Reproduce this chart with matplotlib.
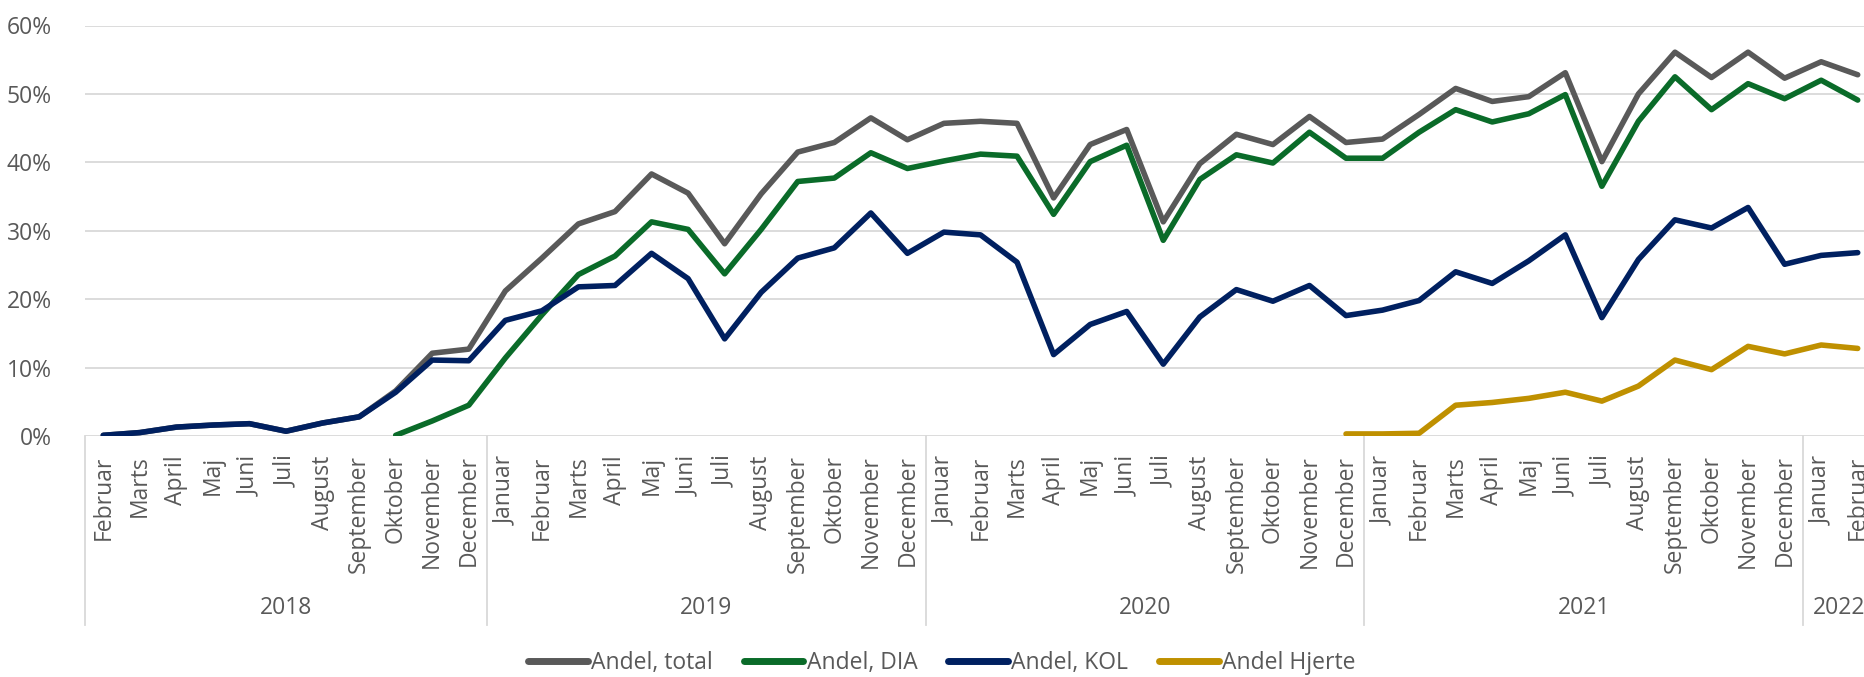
import numpy as np
import matplotlib
matplotlib.use("Agg")
import matplotlib.pyplot as plt
import matplotlib.transforms as mtransforms
from matplotlib.ticker import FuncFormatter

plt.rcParams['font.family'] = ['Open Sans', 'DejaVu Sans']

nan = np.nan

# kategorier: Februar 2018 - Februar 2022
years = ['2018', '2019', '2020', '2021', '2022']
months_per_year = [
    ['Februar', 'Marts', 'April', 'Maj', 'Juni', 'Juli', 'August', 'September',
     'Oktober', 'November', 'December'],
    ['Januar', 'Februar', 'Marts', 'April', 'Maj', 'Juni', 'Juli', 'August',
     'September', 'Oktober', 'November', 'December'],
    ['Januar', 'Februar', 'Marts', 'April', 'Maj', 'Juni', 'Juli', 'August',
     'September', 'Oktober', 'November', 'December'],
    ['Januar', 'Februar', 'Marts', 'April', 'Maj', 'Juni', 'Juli', 'August',
     'September', 'Oktober', 'November', 'December'],
    ['Januar', 'Februar'],
]

# andele i procent
andel_total = [0.1, 0.5, 1.3, 1.6, 1.8, 0.7, 1.9, 2.8, 6.6, 12.1, 12.7,
               21.2, 26.0, 31.0, 32.8, 38.3, 35.5, 28.1, 35.4, 41.5, 42.9, 46.5, 43.3,
               45.7, 46.0, 45.7, 34.8, 42.6, 44.8, 31.3, 39.8, 44.1, 42.6, 46.7, 42.9,
               43.4, 47.0, 50.8, 48.9, 49.6, 53.1, 40.1, 50.0, 56.1, 52.4, 56.1, 52.3,
               54.7, 52.8]
andel_dia = [nan, nan, nan, nan, nan, nan, nan, nan, 0.1, 2.2, 4.5,
             11.4, 17.7, 23.6, 26.3, 31.3, 30.2, 23.7, 30.2, 37.2, 37.7, 41.4, 39.1,
             40.2, 41.2, 40.9, 32.4, 40.1, 42.5, 28.6, 37.5, 41.1, 39.9, 44.4, 40.6,
             40.6, 44.4, 47.7, 45.9, 47.1, 49.9, 36.5, 46.0, 52.5, 47.7, 51.5, 49.3,
             52.0, 49.1]
andel_kol = [0.1, 0.5, 1.3, 1.6, 1.8, 0.7, 1.9, 2.8, 6.4, 11.1, 11.0,
             16.9, 18.3, 21.8, 22.0, 26.7, 23.0, 14.2, 21.0, 26.0, 27.5, 32.6, 26.7,
             29.8, 29.4, 25.4, 11.9, 16.3, 18.2, 10.5, 17.4, 21.4, 19.7, 22.0, 17.6,
             18.4, 19.8, 24.0, 22.3, 25.6, 29.4, 17.3, 25.8, 31.6, 30.4, 33.4, 25.1,
             26.4, 26.8]
andel_hjerte = [nan] * 34 + [0.3, 0.3, 0.4, 4.5, 4.9, 5.5, 6.4, 5.1, 7.3,
                             11.1, 9.7, 13.1, 12.0, 13.3, 12.8]

series = [
    ('Andel, total', andel_total, '#595959'),
    ('Andel, DIA', andel_dia, '#0A6B29'),
    ('Andel, KOL', andel_kol, '#002060'),
    ('Andel Hjerte', andel_hjerte, '#BF9000'),
]

month_labels = [m for ms in months_per_year for m in ms]
x = np.arange(len(month_labels))

txt_col = '#595959'
grid_col = '#D9D9D9'
fs = 16.5

fig = plt.figure(figsize=(18.65, 6.77), dpi=100)
ax = fig.add_axes([85 / 1865, 1 - 436 / 677, 1791 / 1865, (436 - 25.5) / 677])

for name, vals, col in series:
    ax.plot(x, np.array(vals, dtype=float), color=col, lw=4.0, label=name,
            solid_joinstyle='round', solid_capstyle='round', zorder=3)

ax.set_xlim(-0.5, len(x) - 0.5)
ax.set_ylim(0, 60)
ax.set_yticks(np.arange(0, 61, 10))
ax.yaxis.set_major_formatter(FuncFormatter(lambda v, p: f'{v:.0f}%'))
ax.grid(axis='y', color=grid_col, lw=1.3, zorder=0)
for s in ax.spines.values():
    s.set_visible(False)
ax.tick_params(axis='y', length=0, pad=24, labelsize=fs, labelcolor=txt_col)
ax.set_xticks(x)
ax.set_xticklabels(month_labels, rotation=90, fontsize=fs, color=txt_col)
ax.tick_params(axis='x', length=0, pad=14)

# årsopdeling under aksen
trans = mtransforms.blended_transform_factory(ax.transData, ax.transAxes)
y_bottom = (436 - 625) / (436 - 25.5)
edges = np.cumsum([0] + [len(ms) for ms in months_per_year]) - 0.5
for e in edges:
    ax.plot([e, e], [0, y_bottom], color=grid_col, lw=1.3, transform=trans,
            clip_on=False, zorder=1)
y_year = (436 - 608) / (436 - 25.5)
for i, yr in enumerate(years):
    ax.text((edges[i] + edges[i + 1]) / 2, y_year, yr, transform=trans,
            ha='center', va='center', fontsize=fs, color=txt_col)

leg = fig.legend(*ax.get_legend_handles_labels(), loc='center',
                 bbox_to_anchor=(0.505, 1 - 663 / 677), ncol=4, frameon=False,
                 fontsize=fs, handlelength=2.6, handletextpad=0.15,
                 columnspacing=1.35, labelcolor=txt_col)
for h in leg.get_lines():
    h.set_linewidth(5.0)

fig.savefig('out.png', dpi=100)
